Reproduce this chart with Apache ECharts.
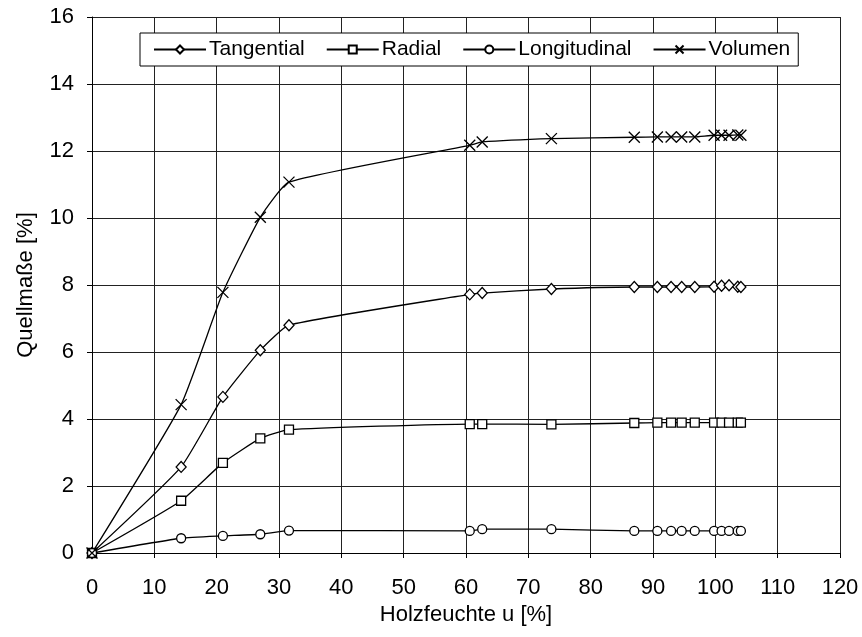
<!DOCTYPE html>
<html>
<head>
<meta charset="utf-8">
<script src="https://cdn.jsdelivr.net/npm/echarts@6/dist/echarts.min.js"></script>
<style>
  html, body { margin: 0; padding: 0; background: #fff; }
  #chart { width: 862px; height: 637px; }
</style>
</head>
<body>
<div id="chart"></div>
<script>
// Holzfeuchte u [%] (shared x values for all series)
const moisture = [0, 14.3, 21.0, 27.0, 31.6, 60.6, 62.6, 73.7, 87.0, 90.7, 92.9, 94.6, 96.7, 99.8, 101.0, 102.2, 103.6, 104.1];

// Quellmaße [%]
const tangential   = [0, 2.57, 4.66, 6.05, 6.80, 7.72, 7.76, 7.88, 7.94, 7.94, 7.94, 7.94, 7.94, 7.95, 7.98, 7.99, 7.95, 7.94];
const radial       = [0, 1.56, 2.69, 3.42, 3.68, 3.85, 3.85, 3.84, 3.88, 3.89, 3.89, 3.89, 3.89, 3.89, 3.89, 3.89, 3.89, 3.89];
const longitudinal = [0, 0.44, 0.51, 0.56, 0.67, 0.66, 0.71, 0.71, 0.66, 0.66, 0.66, 0.66, 0.66, 0.66, 0.66, 0.66, 0.66, 0.66];
const volumen      = [0, 4.43, 7.78, 10.02, 11.07, 12.17, 12.27, 12.37, 12.41, 12.42, 12.42, 12.42, 12.42, 12.47, 12.47, 12.47, 12.48, 12.47];

const seriesNames = ['Tangential', 'Radial', 'Longitudinal', 'Volumen'];
const xTicks = { min: 0, max: 120, interval: 10 };
const yTicks = { min: 0, max: 16, interval: 2 };

const FONT = 'Liberation Sans, Arial, sans-serif';
const CROSS = 'path://M0,0L10,10M10,0L0,10';

function pairs(ys) { return moisture.map((x, i) => [x, ys[i]]); }

function makeSeries(name, ys, symbol, size) {
  return {
    name: name,
    type: 'line',
    data: pairs(ys),
    smooth: 0.15,
    symbol: symbol,
    symbolSize: size,
    showAllSymbol: true,
    lineStyle: { color: '#000', width: 1.3 },
    itemStyle: { color: '#fff', borderColor: '#000', borderWidth: 1.3 },
    emphasis: { disabled: true },
    animation: false
  };
}

const chart = echarts.init(document.getElementById('chart'), null, { renderer: 'canvas' });
chart.setOption({
  backgroundColor: '#fff',
  animation: false,
  textStyle: { fontFamily: FONT, color: '#000' },
  grid: { left: 92, right: 22, top: 17, bottom: 84, containLabel: false },
  legend: {
    data: seriesNames,
    left: 140,
    top: 33,
    padding: [6, 8, 6, 13],
    itemWidth: 52,
    itemHeight: 10,
    itemGap: 21,
    backgroundColor: '#fff',
    borderColor: '#000',
    borderWidth: 1,
    borderRadius: 0,
    textStyle: { fontFamily: FONT, fontSize: 21, color: '#000', padding: [0, 0, 0, -2] },
    selectedMode: false
  },
  xAxis: {
    type: 'value',
    min: xTicks.min, max: xTicks.max, interval: xTicks.interval,
    name: 'Holzfeuchte u [%]',
    nameLocation: 'middle',
    nameGap: 46,
    nameTextStyle: { fontFamily: FONT, fontSize: 22, color: '#000' },
    axisLine: { show: true, onZero: false, lineStyle: { color: '#000', width: 1 } },
    axisTick: { show: true, length: 5, lineStyle: { color: '#000' } },
    axisLabel: { fontFamily: FONT, fontSize: 22, color: '#000', margin: 24 },
    splitLine: { show: true, lineStyle: { color: '#222', width: 1 } }
  },
  yAxis: {
    type: 'value',
    min: yTicks.min, max: yTicks.max, interval: yTicks.interval,
    name: 'Quellmaße [%]',
    nameLocation: 'middle',
    nameGap: 55,
    nameRotate: 90,
    nameTextStyle: { fontFamily: FONT, fontSize: 22, color: '#000' },
    axisLine: { show: true, onZero: false, lineStyle: { color: '#000', width: 1 } },
    axisTick: { show: true, length: 5, lineStyle: { color: '#000' } },
    axisLabel: { fontFamily: FONT, fontSize: 22, color: '#000', margin: 18 },
    splitLine: { show: true, lineStyle: { color: '#222', width: 1 } }
  },
  series: [
    makeSeries(seriesNames[0], tangential, 'diamond', [10, 11]),
    makeSeries(seriesNames[1], radial, 'rect', 9),
    makeSeries(seriesNames[2], longitudinal, 'circle', 9),
    makeSeries(seriesNames[3], volumen, CROSS, 11)
  ]
});
</script>
</body>
</html>
